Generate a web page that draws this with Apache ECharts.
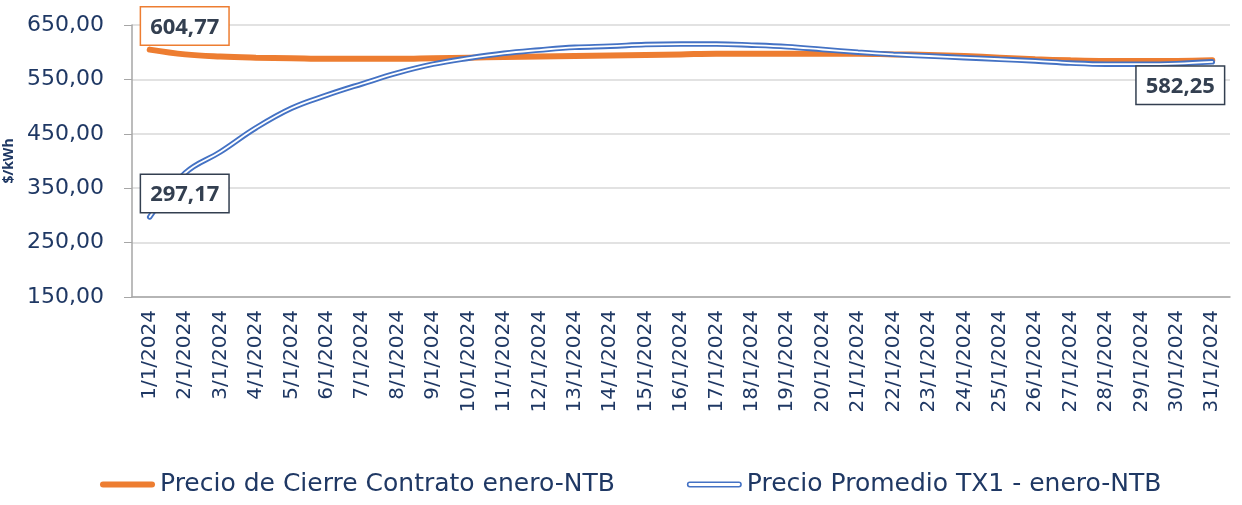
<!DOCTYPE html>
<html>
<head>
<meta charset="utf-8">
<script src="https://cdn.jsdelivr.net/npm/echarts@6/dist/echarts.min.js"></script>
<style>
  html, body { margin: 0; padding: 0; background: #fff; }
  #chart { width: 1242px; height: 505px; }
</style>
</head>
<body>
<div id="chart"></div>
<script>
// fechas del eje x
const dias = [];
for (let d = 1; d <= 31; d++) dias.push(d + "/1/2024");

const cierre = [604.77, 596, 592, 590, 589, 588, 588, 588, 589, 590, 591, 592, 593, 594, 595, 596,
    597, 597, 597, 597, 597, 596, 595, 593, 590, 587, 585, 584, 584, 584, 585];
const promedio = [297.17, 378, 417, 461, 497, 521, 542, 562, 578, 589, 598, 604, 609, 611, 614, 615,
    615, 613, 610, 605, 600, 596, 593, 590, 587, 584, 580, 578, 578, 579, 582.25];

const nombreCierre = "Precio de Cierre Contrato enero-NTB";
const nombrePromedio = "Precio Promedio TX1 - enero-NTB";

const azul = "#4472C4";
const naranja = "#ED7D31";
const textoAzul = "#1F3864";

const fmt = (v) => v.toFixed(2).replace(".", ",");

function etiqueta(borde, pos, offset) {
    return {
        show: true,
        position: pos,
        distance: 5,
        offset: offset,
        formatter: (p) => fmt(p.value),
        fontFamily: "Open Sans",
        fontWeight: "bold",
        fontSize: 22,
        color: "#333F50",
        backgroundColor: "#fff",
        borderColor: borde,
        borderWidth: 1.5,
        padding: [9, 9, 6, 9],
    };
}

const chart = echarts.init(document.getElementById("chart"));

chart.setOption({
    backgroundColor: "#fff",
    animation: false,
    grid: { left: 132, right: 12, top: 25, bottom: 208, outerBoundsMode: "none" },
    legend: {
        bottom: 3,
        left: 95,
        itemWidth: 55,
        itemHeight: 7,
        itemGap: 72,
        textStyle: { fontFamily: "DejaVu Sans", fontSize: 25, color: textoAzul },
        data: [
            {
                name: nombreCierre,
                icon: "path://M3,0 L52,0 A3,3 0 0 1 52,6 L3,6 A3,3 0 0 1 3,0 Z",
                itemStyle: { color: naranja },
            },
            {
                name: nombrePromedio,
                icon: "path://M3,0 L52,0 A3,3 0 0 1 52,6 L3,6 A3,3 0 0 1 3,0 Z M3,1.6 A1.4,1.4 0 0 0 3,4.4 L52,4.4 A1.4,1.4 0 0 0 52,1.6 Z",
                itemStyle: { color: azul },
            },
        ],
    },
    xAxis: {
        type: "category",
        data: dias,
        boundaryGap: true,
        axisLine: { lineStyle: { color: "#A6A6A6", width: 1.5 } },
        axisTick: { show: false },
        axisLabel: {
            rotate: 90,
            interval: 0,
            margin: 13,
            fontFamily: "DejaVu Sans",
            fontSize: 20,
            color: textoAzul,
        },
    },
    yAxis: {
        type: "value",
        min: 150,
        max: 650,
        interval: 100,
        name: "$/kWh",
        nameLocation: "middle",
        nameRotate: 90,
        nameGap: 107,
        nameTextStyle: { fontFamily: "Open Sans", fontWeight: "bold", fontSize: 14, color: textoAzul },
        axisLine: { show: true, lineStyle: { color: "#A6A6A6", width: 1.5 } },
        axisTick: { show: true, length: 8, lineStyle: { color: "#A6A6A6" } },
        splitLine: { lineStyle: { color: "#D9D9D9", width: 1.5 } },
        axisLabel: {
            formatter: fmt,
            margin: 28,
            fontFamily: "DejaVu Sans",
            fontSize: 22,
            color: textoAzul,
        },
    },
    series: [
        {
            name: nombreCierre,
            type: "line",
            smooth: 0.4,
            symbol: "circle",
            symbolSize: 0,
            z: 2,
            lineStyle: { color: naranja, width: 6, cap: "round" },
            itemStyle: { color: naranja },
            data: cierre.map((v, i) => i === 0
                ? { value: v, label: etiqueta(naranja, "top", [35, 0]) }
                : v),
        },
        {
            name: nombrePromedio,
            type: "line",
            smooth: 0.4,
            showSymbol: false,
            z: 3,
            lineStyle: { color: azul, width: 5.5, cap: "round" },
            itemStyle: { color: azul },
            data: promedio,
        },
        {
            name: "promedio-interior",
            type: "line",
            smooth: 0.4,
            symbol: "circle",
            symbolSize: 0,
            z: 4,
            lineStyle: { color: "#fff", width: 1.8, cap: "round" },
            itemStyle: { color: "#fff" },
            data: promedio.map((v, i) => {
                if (i === 0) return { value: v, label: etiqueta("#333F50", "top", [35, 0]) };
                if (i === promedio.length - 1) return { value: v, label: etiqueta("#333F50", "bottom", [-32, 0]) };
                return v;
            }),
        },
    ],
});
</script>
</body>
</html>
